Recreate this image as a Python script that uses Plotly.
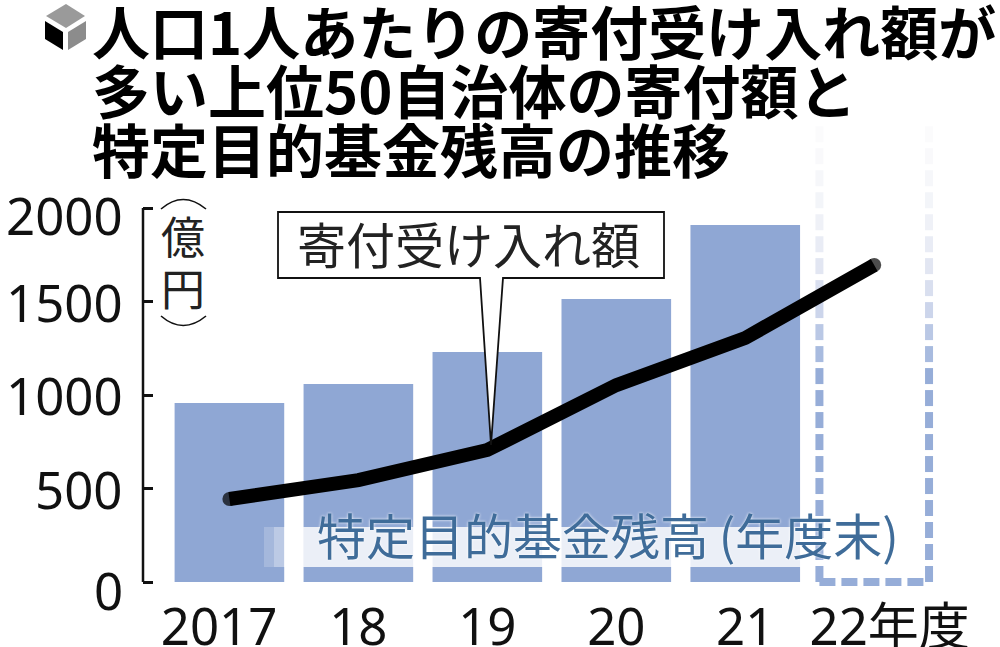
#!/usr/bin/env python
# Hometown-tax donations vs. special-purpose fund balance, top 50 municipalities
import plotly.graph_objects as go

years=["2017","18","19","20","21","22年度"]
donations=[957,1059,1230,1513,1909]
fund_balance=[444,545,706,1053,1305,1695]
y_ticks=[0,500,1000,1500,2000]
title_lines=["人口1人あたりの寄付受け入れ額が","多い上位50自治体の寄付額と","特定目的基金残高の推移"]

W,H=1000,647
BAR="#8fa7d4"
JP="Noto Sans CJK JP"
NUM="Noto Sans, Noto Sans CJK JP"
px=lambda x:x/W
py=lambda y:1-y/H
def path(pts):
    return "M"+"L".join(f"{px(a):.4f},{py(b):.4f}" for a,b in pts)+"Z"

# y axis runs past 0..2000 so the dashed FY22 outline is not clipped
scale=374/2000
ymin,ymax=-40,2470
y_dom=[(H-582-40*scale)/H,(H-582+ymax*scale)/H]

fig=go.Figure()
fig.add_trace(go.Bar(x=list(range(5)),y=donations,width=0.85,marker=dict(color=BAR,line_width=0),showlegend=False))

# FY22 outline is dashed and fades out towards the top
bw=0.425
dash="16px,6px"
bar_x=5
fig.add_trace(go.Scatter(x=[bar_x-bw,bar_x+bw],y=[0,0],mode="lines",showlegend=False,
    line=dict(color="#96add8",width=8,dash=dash)))
step=117.6
fade=["#96add8"]*10+["#a8bbdf","#bac8e5","#ccd5eb","#d9dfef","#e2e6f2","#e9ecf5","#eff1f7","#f3f5f9","#f6f7fa","#f9f9fb","#fbfbfc"]
for i,c in enumerate(fade):
    for xv in (bar_x-bw,bar_x+bw):
        fig.add_trace(go.Scatter(x=[xv,xv],y=[i*step,(i+1)*step],mode="lines",showlegend=False,
            line=dict(color=c,width=8,dash=dash)))

fig.add_trace(go.Scatter(x=list(range(6)),y=fund_balance,mode="lines+markers",showlegend=False,
    line=dict(color="black",width=14),marker=dict(color="black",size=[14,0,0,0,0,14],line_width=0)))

shapes=[]
# axis line stops at 2000
shapes.append(dict(type="line",xref="paper",yref="y",x0=143/W,x1=143/W,y0=0,y1=2000,line=dict(color="#111",width=2.5)))
# white haze behind the blue label
for x0,a in [(264,0.2),(274,0.4),(284,0.6),(294,0.75)]:
    shapes.append(dict(type="rect",xref="paper",yref="paper",x0=px(x0),x1=px(x0+10),y0=py(567),y1=py(527),
        fillcolor=f"rgba(255,255,255,{a})",line_width=0,layer="above"))
shapes.append(dict(type="rect",xref="paper",yref="paper",x0=px(304),x1=px(802),y0=py(567),y1=py(527),
    fillcolor="rgba(255,255,255,0.82)",line_width=0,layer="above"))
# callout box with pointer
shapes.append(dict(type="path",xref="paper",yref="paper",layer="above",fillcolor="white",
    line=dict(color="#111",width=1.8),
    path=path([(278,212),(664,212),(664,278),(503,278),(491,445),(480,278),(278,278)])))
# unit brackets
shapes.append(dict(type="path",xref="paper",yref="paper",line=dict(color="#111",width=1.6),
    path=f"M{px(161)},{py(209)}Q{px(183)},{py(190)} {px(206)},{py(209)}"))
shapes.append(dict(type="path",xref="paper",yref="paper",line=dict(color="#111",width=1.6),
    path=f"M{px(161)},{py(316)}Q{px(183)},{py(335)} {px(206)},{py(316)}"))
# cube icon
shapes+=[
    dict(type="path",xref="paper",yref="paper",fillcolor="#9a9a9a",line_width=0,path=path([(66,4),(85,16),(66,28),(46,16)])),
    dict(type="path",xref="paper",yref="paper",fillcolor="black",line_width=0,path=path([(45,21),(63,32),(63,50),(45,39)])),
    dict(type="path",xref="paper",yref="paper",fillcolor="#8c8c8c",line_width=0,path=path([(68,32),(86,21),(86,39),(68,50)])),
]

ann=[]
for i,line in enumerate(title_lines):
    ann.append(dict(text=line,xref="paper",yref="paper",x=px(90),y=py(30+59*i),xanchor="left",yanchor="middle",
        showarrow=False,font=dict(family=JP,size=58,color="black",weight="bold")))
ann.append(dict(text="寄付受け入れ額",xref="paper",yref="paper",x=px(468),y=py(242),xanchor="center",yanchor="middle",showarrow=False,
    font=dict(family=JP,size=49,color="#222")))
ann.append(dict(text="特定目的基金残高\u2009(年度末)\u2009",xref="paper",yref="paper",x=px(315),y=py(533),xanchor="left",yanchor="middle",showarrow=False,
    font=dict(family=JP,size=49,color="#3f6c99",shadow="0 0 3px white")))
for ch,yy in (("億",235),("円",287)):
    ann.append(dict(text=ch,xref="paper",yref="paper",x=px(183),y=py(yy),xanchor="center",yanchor="middle",showarrow=False,
        font=dict(family=JP,size=44,color="#222")))
# y labels sit slightly off their ticks in the original
for v,dy in zip(y_ticks,[-8,0,0,0,-7]):
    ann.append(dict(text=str(v),xref="paper",yref="y",x=px(125),y=v,yshift=dy,xanchor="right",yanchor="middle",showarrow=False,
        font=dict(family=NUM,size=51,color="#111")))

fig.update_layout(width=W,height=H,margin=dict(l=0,r=0,t=0,b=0),plot_bgcolor="white",paper_bgcolor="white",
    shapes=shapes,annotations=ann,showlegend=False,
    xaxis=dict(automargin=False,domain=[143/W,940/W],range=[-0.67,5.51],showgrid=False,zeroline=False,showline=False,ticks="",
        tickvals=[-0.08,1,2,3,4,5.12],ticktext=years,ticklabelstandoff=4,tickfont=dict(family=NUM,size=51,color="#111")),
    yaxis=dict(automargin=False,domain=y_dom,range=[ymin,ymax],showgrid=False,zeroline=False,showline=False,
        ticks="inside",ticklen=10,tickwidth=2.5,tickcolor="#111",tickvals=y_ticks,showticklabels=False))
fig.write_html("out.html",config=dict(displayModeBar=False),post_script="document.body.style.margin='0'")
